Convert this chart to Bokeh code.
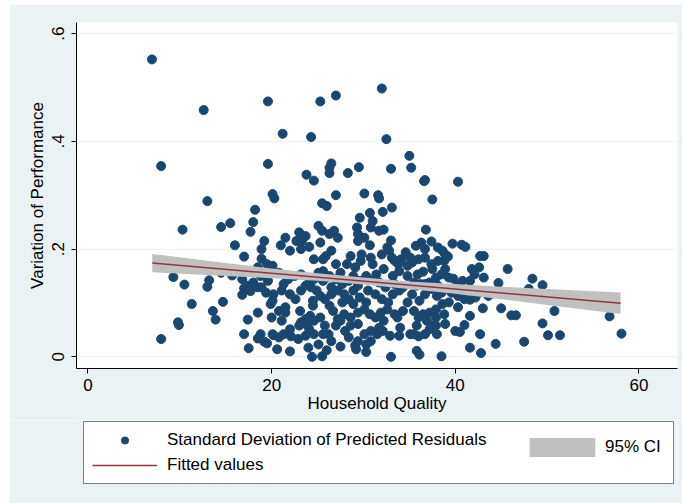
from bokeh.plotting import figure
from bokeh.layouts import column
from bokeh.models import ColumnDataSource, Legend, LegendItem, FixedTicker, Range1d
from bokeh.embed import file_html
from bokeh.resources import INLINE

# Household quality (x) for each unit
quality = [
    6.97,7.97,7.97,12.6,13.0,19.6,25.3,27.0,32.0,21.2,
    24.3,32.5,35.0,35.2,33.0,29.5,19.6,26.5,26.3,26.3,
    23.8,28.3,24.6,36.6,36.7,40.3,20.1,20.3,30.1,31.6,
    31.7,27.0,37.5,25.5,26.0,33.1,32.1,30.7,29.6,31.0,
    18.2,18.0,15.5,14.5,17.7,10.3,16.0,17.0,18.9,9.3,
    10.5,11.3,13.0,13.2,13.6,13.9,14.7,14.5,15.7,9.8,
    9.9,16.8,17.0,17.0,17.4,17.5,18.5,18.8,18.5,19.2,
    19.5,20.0,20.2,20.6,22.0,24.0,24.4,25.5,26.0,27.5,
    29.2,30.3,33.0,35.8,36.1,38.5,41.6,42.8,44.4,47.5,
    50.1,51.4,58.1,56.8,49.5,50.8,46.1,46.6,45.0,48.4,
    49.5,48.0,45.7,44.7,43.1,42.7,43.1,41.8,42.1,42.6,
    41.6,41.6,43.0,42.7,41.6,41.0,40.0,40.5,40.3,39.7,
    40.7,41.1,39.8,40.3,40.8,38.8,38.9,38.0,37.2,36.0,
    36.7,36.8,37.4,38.1,38.6,38.9,39.2,38.8,37.4,37.5,
    38.5,36.5,35.9,35.7,36.3,34.6,35.1,35.3,33.4,33.8,
    33.0,32.2,31.7,30.8,29.3,29.4,30.1,29.4,30.7,32.6,
    32.8,32.0,30.8,29.7,28.6,28.2,27.0,26.5,25.9,25.6,
    26.8,27.2,26.3,25.5,25.1,25.3,23.7,23.0,23.3,24.1,
    22.7,21.5,21.0,22.0,19.2,18.9,19.5,20.1,18.8,18.0,
    17.4,17.7,18.5,19.4,20.2,20.1,21.1,21.3,21.8,22.0,
    22.6,21.5,20.8,21.5,23.1,23.2,23.7,24.3,24.5,24.5,
    24.2,23.7,23.2,23.9,25.3,24.6,25.8,26.2,25.6,24.6,
    23.7,22.9,22.1,21.3,20.8,26.5,25.1,28.0,28.4,29.4,
    30.1,30.8,31.5,32.1,32.9,33.9,34.0,35.1,35.8,36.0,
    36.9,37.4,37.9,38.6,38.0,38.5,37.4,36.7,36.1,35.3,
    34.8,34.3,33.7,33.4,32.6,31.9,31.3,30.7,30.1,29.4,
    28.6,27.9,27.2,26.7,26.3,25.8,26.5,27.2,27.9,28.4,
    27.7,28.9,29.6,30.3,30.5,31.3,32.0,32.7,33.2,33.9,
    34.3,33.4,32.4,31.7,31.2,30.3,29.6,28.9,28.4,27.7,
    27.0,26.3,25.6,25.1,25.6,24.9,25.3,26.5,28.9,29.4,
    33.2,33.9,34.8,35.5,36.2,37.2,38.1,38.9,39.6,40.3,
    41.0,42.2,42.6,43.6,39.3,37.9,37.2,36.5,35.5,35.5,
    36.7,37.9,32.2,31.7,30.8,29.4,28.6,30.3,29.1,27.5,
    27.0,18.9,19.9,21.1,22.0,23.0,24.1,20.1,23.2,24.6,
    26.0,27.5,29.1,29.8,31.0,32.2,31.4,33.1,34.1,34.8,
    36.0,36.7,38.1,38.9,37.9,36.7,35.8,39.3,24.1,22.5,
    23.2,24.6,20.8,19.6,16.8,18.5,
]

# Standard deviation of predicted residuals (y)
variation = [
    0.552,0.354,0.033,0.458,0.289,0.474,0.474,0.485,0.498,0.414,
    0.408,0.404,0.373,0.351,0.349,0.352,0.358,0.359,0.351,0.341,
    0.338,0.341,0.327,0.326,0.328,0.325,0.302,0.294,0.303,0.300,
    0.294,0.300,0.292,0.285,0.280,0.277,0.269,0.267,0.258,0.252,
    0.273,0.250,0.248,0.241,0.232,0.236,0.207,0.186,0.182,0.148,
    0.134,0.098,0.130,0.142,0.085,0.069,0.102,0.156,0.151,0.064,
    0.059,0.115,0.127,0.042,0.069,0.016,0.082,0.042,0.034,0.028,
    0.025,0.073,0.040,0.014,0.010,0.017,0.000,0.001,0.012,0.019,
    0.014,0.009,0.000,0.011,0.004,0.001,0.017,0.007,0.024,0.028,
    0.040,0.040,0.043,0.075,0.062,0.085,0.077,0.077,0.090,0.145,
    0.133,0.126,0.163,0.137,0.187,0.187,0.147,0.163,0.153,0.166,
    0.141,0.106,0.090,0.042,0.076,0.059,0.048,0.046,0.092,0.210,
    0.208,0.204,0.145,0.132,0.141,0.079,0.061,0.042,0.051,0.038,
    0.200,0.236,0.214,0.203,0.197,0.190,0.186,0.178,0.172,0.163,
    0.153,0.158,0.153,0.206,0.212,0.194,0.184,0.175,0.178,0.172,
    0.216,0.236,0.234,0.240,0.240,0.228,0.221,0.215,0.207,0.203,
    0.197,0.190,0.184,0.178,0.187,0.172,0.172,0.197,0.187,0.181,
    0.234,0.221,0.228,0.234,0.243,0.212,0.224,0.231,0.215,0.204,
    0.215,0.221,0.207,0.197,0.215,0.200,0.172,0.169,0.150,0.138,
    0.132,0.122,0.129,0.119,0.116,0.104,0.123,0.135,0.144,0.116,
    0.107,0.092,0.085,0.082,0.085,0.123,0.132,0.129,0.104,0.095,
    0.076,0.070,0.064,0.058,0.073,0.067,0.058,0.042,0.042,0.042,
    0.039,0.033,0.038,0.042,0.036,0.029,0.023,0.048,0.036,0.029,
    0.042,0.029,0.042,0.048,0.039,0.039,0.054,0.042,0.058,0.073,
    0.067,0.058,0.073,0.098,0.113,0.119,0.126,0.116,0.104,0.116,
    0.101,0.085,0.073,0.079,0.088,0.082,0.073,0.079,0.088,0.082,
    0.073,0.079,0.070,0.085,0.095,0.107,0.116,0.123,0.116,0.107,
    0.101,0.098,0.110,0.101,0.123,0.116,0.107,0.101,0.116,0.123,
    0.129,0.135,0.129,0.138,0.144,0.150,0.141,0.150,0.141,0.135,
    0.144,0.150,0.141,0.156,0.159,0.123,0.113,0.129,0.123,0.132,
    0.150,0.159,0.150,0.138,0.135,0.138,0.132,0.126,0.119,0.113,
    0.107,0.110,0.119,0.113,0.101,0.088,0.082,0.079,0.085,0.042,
    0.042,0.058,0.067,0.054,0.048,0.061,0.058,0.023,0.021,0.067,
    0.058,0.129,0.098,0.067,0.051,0.058,0.051,0.042,0.200,0.181,
    0.147,0.156,0.166,0.190,0.172,0.163,0.153,0.184,0.181,0.169,
    0.181,0.184,0.178,0.163,0.147,0.135,0.132,0.147,0.138,0.150,
    0.153,0.144,0.156,0.141,0.144,0.166,
]

# Fitted line and 95% CI
fit_x = [7, 58]
fit_y = [0.174, 0.0995]
ci_x = [7, 15, 20, 25, 30, 35, 40, 45, 50, 58]
ci_lo = [0.157, 0.150, 0.146, 0.141, 0.134, 0.126, 0.117, 0.107, 0.096, 0.0795]
ci_hi = [0.191, 0.174, 0.164, 0.155, 0.147, 0.140, 0.135, 0.130, 0.126, 0.1195]

x_ticks = [0, 20, 40, 60]
y_ticks = [0, 0.2, 0.4, 0.6]
y_tick_labels = ["0", ".2", ".4", ".6"]

n = min(len(quality), len(variation))
src = ColumnDataSource(data=dict(x=quality[:n], y=variation[:n]))

FONT = "Liberation Sans"
BG = "#EAF2F3"
NAVY = "#1A476F"
GREY = "#C0C0C0"
MAROON = "#90353B"

OFF_X, OFF_Y = 9, 4        # white page strip left/top of the graph region
W = 673
H_MAIN = 416
H_LEG = 83

p = figure(width=W, height=H_MAIN, output_backend="svg", toolbar_location=None,
           x_range=Range1d(-1.25, 64.2), y_range=Range1d(-0.0217, 0.6205),
           min_border_left=76 - OFF_X, min_border_right=5,
           min_border_top=22 - OFF_Y,
           min_border_bottom=OFF_Y + H_MAIN - 368)
p.border_fill_color = BG
p.background_fill_color = "white"
p.outline_line_color = None

p.xgrid.grid_line_color = None
p.ygrid.grid_line_color = BG
p.ygrid.grid_line_width = 1.2

p.xaxis.ticker = FixedTicker(ticks=x_ticks)
p.yaxis.ticker = FixedTicker(ticks=y_ticks)
p.yaxis.major_label_overrides = {t: l for t, l in zip(y_ticks, y_tick_labels)}
p.yaxis.major_label_orientation = "vertical"

for ax in (p.xaxis[0], p.yaxis[0]):
    ax.axis_line_color = "black"
    ax.major_tick_line_color = "black"
    ax.major_tick_out = 5
    ax.major_tick_in = 0
    ax.minor_tick_line_color = None
    ax.major_label_text_font = FONT
    ax.major_label_text_font_size = "17px"
    ax.major_label_text_color = "black"
    ax.axis_label_text_font = FONT
    ax.axis_label_text_font_size = "17px"
    ax.axis_label_text_font_style = "normal"
    ax.axis_label_text_color = "black"

p.xaxis.axis_label = "Household Quality"
p.yaxis.axis_label = "Variation of Performance"
p.xaxis.major_label_standoff = 5
p.xaxis.axis_label_standoff = 0
p.yaxis.major_label_standoff = 7
p.yaxis.axis_label_standoff = 3

p.scatter(x="x", y="y", source=src, size=9, fill_color=NAVY, line_color=NAVY)
p.varea(x=ci_x, y1=ci_lo, y2=ci_hi, fill_color=GREY)
p.line(fit_x, fit_y, line_color=MAROON, line_width=1.5)

# Legend strip below the plot. Its key renderers hold the same data but its
# ranges lie far away, so only the legend keys are visible.
lf = figure(width=W, height=H_LEG, output_backend="svg", toolbar_location=None,
            x_range=Range1d(1000, 2000), y_range=Range1d(1000, 2000),
            x_axis_type=None, y_axis_type=None,
            min_border_left=0, min_border_right=0, min_border_top=0,
            min_border_bottom=0)
lf.border_fill_color = BG
lf.background_fill_color = BG
lf.outline_line_color = None
lf.grid.visible = False

k_sc = lf.scatter(x=quality[:n], y=variation[:n], size=9, fill_color=NAVY,
                  line_color=NAVY)
k_ci = lf.varea(x=ci_x, y1=ci_lo, y2=ci_hi, fill_color=GREY)
k_fit = lf.line(x=fit_x, y=fit_y, line_color=MAROON, line_width=1.5)

common = dict(label_height=18, spacing=5, margin=0,
              label_text_font=FONT, label_text_font_size="17px",
              label_text_color="black")

leg_a = Legend(items=[LegendItem(label="Standard Deviation of Predicted Residuals", renderers=[k_sc], index=0),
                      LegendItem(label="Fitted values", renderers=[k_fit], index=0)],
               location=(7, 19), orientation="vertical", label_width=498,
               glyph_width=65, glyph_height=18, label_standoff=10,
               padding=8, border_line_color="black", border_line_width=1,
               background_fill_color="white", background_fill_alpha=1, **common)
leg_b = Legend(items=[LegendItem(label="95% CI", renderers=[k_ci], index=0)],
               location=(445, 44), orientation="vertical", padding=0,
               glyph_width=82, glyph_height=24, label_standoff=2,
               border_line_color=None, background_fill_alpha=0, **common)
lf.add_layout(leg_a)
lf.add_layout(leg_b)

layout = column(p, lf, spacing=0, margin=(OFF_Y, 0, 0, OFF_X))
open("out.html", "w").write(file_html(layout, INLINE))
